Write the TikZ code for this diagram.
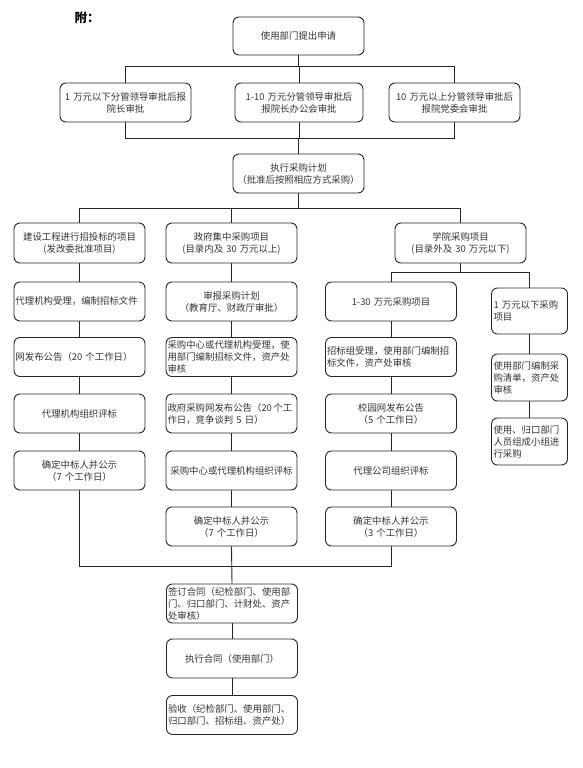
\documentclass[tikz,border=0pt]{standalone}
\usepackage{fontspec}
\newfontfamily\cjk{Noto Sans CJK SC}
\begin{document}
\begin{tikzpicture}[x=1pt,y=-1pt,
  box/.style={draw=black!85, line width=0.9pt, rounded corners=6pt, inner xsep=3pt, inner ysep=0pt,
    font=\cjk\fontsize{9.4}{12}\selectfont, text=black!80},
  cbox/.style={box, text width=125pt, minimum height=39pt, align=center},
  lbox/.style={box, inner xsep=1.5pt, text width=128pt, minimum height=39pt, align=left},
  sbox/.style={box, inner xsep=2pt, text width=72pt, minimum height=47pt, align=left},
  conn/.style={draw=black!85, line width=0.9pt}]
\useasboundingbox (0,0) rectangle (582,768);

\node[font=\cjk\bfseries\fontsize{12.5}{14}\selectfont] (title) at (87,18) {附：};

% top
\node[cbox, minimum height=38pt] (n1) at (298.5,36) {使用部门提出申请};
\node[cbox] (a1) at (125.5,102.5) {1 万元以下分管领导审批后报\\院长审批};
\node[cbox, text width=122pt] (a2) at (299,102.5) {1-10 万元分管领导审批后\\报院长办公会审批};
\node[cbox] (a3) at (454.5,102.5) {10 万元以上分管领导审批后\\报院党委会审批};
\node[cbox] (n2) at (298.5,173.5) {执行采购计划\\（批准后按照相应方式采购）};

% row 4
\node[cbox, minimum height=40pt] (b1) at (79.5,243) {建设工程进行招投标的项目\\(发改委批准项目)};
\node[cbox, minimum height=40pt] (b2) at (231.5,243) {政府集中采购项目\\(目录内及 30 万元以上)};
\node[cbox, minimum height=40pt] (b3) at (460.5,243) {学院采购项目\\(目录外及 30 万元以下)};

% left column
\node[lbox] (l1) at (79.5,301.5) {代理机构受理，编制招标文件};
\node[lbox] (l2) at (79.5,357) {网发布公告（20 个工作日）};
\node[cbox] (l3) at (79.5,413.5) {代理机构组织评标};
\node[cbox] (l4) at (79.5,470.5) {确定中标人并公示\\（7 个工作日）};

% middle column
\node[cbox] (m1) at (231.5,301.5) {审报采购计划\\（教育厅、财政厅审批）};
\node[lbox] (m2) at (231.5,357) {采购中心或代理机构受理，使\\用部门编制招标文件，资产处\\审核};
\node[lbox] (m3) at (231.5,413.5) {政府采购网发布公告（20\,个工\\作日，竞争谈判 5 日）};
\node[cbox] (m4) at (231.5,470.5) {采购中心或代理机构组织评标};
\node[cbox] (m5) at (231.5,526.5) {确定中标人并公示\\（7 个工作日）};

% right column
\node[cbox] (r1) at (391,301.5) {1-30 万元采购项目};
\node[lbox] (r2) at (391,357) {招标组受理，使用部门编制招\\标文件，资产处审核};
\node[cbox] (r3) at (391,413.5) {校园网发布公告\\（5 个工作日）};
\node[cbox] (r4) at (391,470.5) {代理公司组织评标};
\node[cbox] (r5) at (391,526.5) {确定中标人并公示\\（3 个工作日）};

% far right column
\node[sbox, minimum height=46pt] (s1) at (529.5,311) {1 万元以下采购\\项目};
\node[sbox] (s2) at (529.5,377.5) {使用部门编制采\\购清单，资产处\\审核};
\node[sbox] (s3) at (529.5,441.5) {使用、归口部门\\人员组成小组进\\行采购};

% bottom
\node[lbox] (e1) at (232,603.5) {签订合同（纪检部门、使用部\\门、归口部门、计财处、资产\\处审核）};
\node[cbox] (e2) at (232,658.5) {执行合同（使用部门）};
\node[lbox] (e3) at (232,715) {验收（纪检部门、使用部门、\\归口部门、招标组、资产处）};

% junction coordinates
\coordinate (j1) at (298.5,66.5);
\coordinate (j2) at (298.5,138);
\coordinate (j3) at (298.5,208);
\coordinate (j4) at (460.5,272);
\coordinate (j5) at (232,566);

% connectors
\draw[conn] (n1.south) -- (j1);
\draw[conn] (a1.north) -- (a1.north |- j1) -- (a3.north |- j1) -- (a3.north);
\draw[conn] (a2.north) -- (a2.north |- j1);
\draw[conn] (a1.south) -- (a1.south |- j2) -- (a3.south |- j2) -- (a3.south);
\draw[conn] (a2.south) -- (a2.south |- j2);
\draw[conn] (j2) -- (n2.north);
\draw[conn] (n2.south) -- (j3);
\draw[conn] (b1.north) -- (b1.north |- j3) -- (b3.north |- j3) -- (b3.north);
\draw[conn] (b2.north) -- (b2.north |- j3);
\draw[conn] (b3.south) -- (j4);
\draw[conn] (r1.north) -- (r1.north |- j4) -- (s1.north |- j4) -- (s1.north);

\draw[conn] (b1) -- (l1);
\draw[conn] (l1) -- (l2);
\draw[conn] (l2) -- (l3);
\draw[conn] (l3) -- (l4);

\draw[conn] (b2) -- (m1);
\draw[conn] (m1) -- (m2);
\draw[conn] (m2) -- (m3);
\draw[conn] (m3) -- (m4);
\draw[conn] (m4) -- (m5);

\draw[conn] (r1) -- (r2);
\draw[conn] (r2) -- (r3);
\draw[conn] (r3) -- (r4);
\draw[conn] (r4) -- (r5);

\draw[conn] (s1) -- (s2);
\draw[conn] (s2) -- (s3);

\draw[conn] (l4.south) -- (l4.south |- j5) -- (r5.south |- j5) -- (r5.south);
\draw[conn] (m5.south) -- (e1.north);
\draw[conn] (e1) -- (e2);
\draw[conn] (e2) -- (e3);
\end{tikzpicture}
\end{document}
